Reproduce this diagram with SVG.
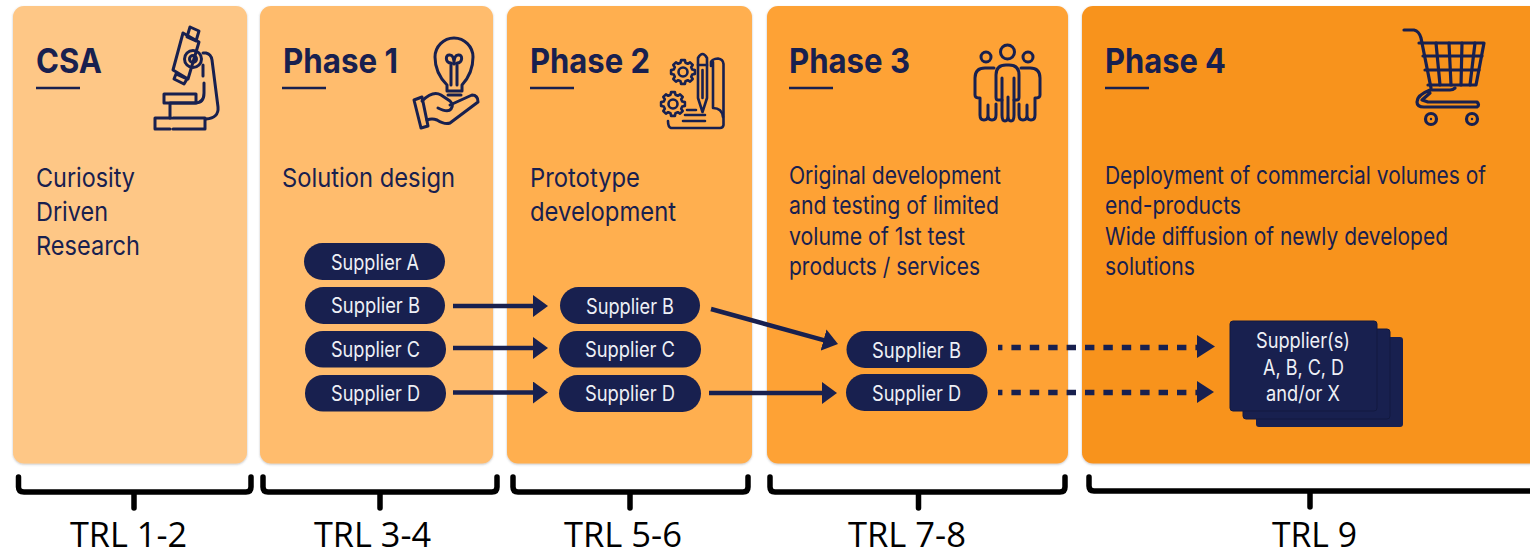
<svg xmlns="http://www.w3.org/2000/svg" width="1530" height="554" viewBox="0 0 1530 554">
<style>
.card{stroke:none;filter:url(#sh)}
.t{font-family:Inter,"Liberation Sans",sans-serif;font-weight:700;font-size:34px;fill:#18204f}
.d{font-family:Inter,"Liberation Sans",sans-serif;font-size:26px;fill:#18204f}
.e{font-family:Inter,"Liberation Sans",sans-serif;font-size:24.500px;fill:#18204f}
.s{font-family:Inter,"Liberation Sans",sans-serif;font-size:21px;fill:#eef0f6}
.p{fill:#18204f}
.u{stroke:#18204f;stroke-width:2.5;fill:none}
.i{stroke:#18204f;stroke-width:3;fill:none;stroke-linecap:round;stroke-linejoin:round}
.c{stroke:#18204f;stroke-width:4.500;fill:none}
.dash{stroke:#18204f;stroke-width:5.500;fill:none;stroke-dasharray:9.400 9;stroke-dashoffset:5}
.b{stroke:#000;stroke-width:5.500;fill:none;stroke-linejoin:round;stroke-linecap:round}
.l{font-family:"Open Sans","Liberation Sans",sans-serif;font-size:34px;fill:#000}
</style>
<defs>
<filter id="sh" x="-5%" y="-5%" width="110%" height="110%"><feDropShadow dx="0" dy="1" stdDeviation="1" flood-color="#555" flood-opacity="0.35"/></filter>
<marker id="ah" markerUnits="userSpaceOnUse" markerWidth="16" markerHeight="22" refX="1" refY="11" orient="auto"><path d="M0,0L15,11L0,22Z" fill="#18204f"/></marker>
<polygon id="gear" points="9.2,-2.5 11.9,-1.9 11.9,1.9 9.2,2.5 8.2,4.75 9.7,7.05 7.05,9.7 4.75,8.2 2.5,9.2 1.9,11.9 -1.9,11.9 -2.5,9.2 -4.75,8.2 -7.05,9.7 -9.7,7.05 -8.2,4.75 -9.2,2.5 -11.9,1.9 -11.9,-1.9 -9.2,-2.5 -8.2,-4.75 -9.7,-7.05 -7.05,-9.7 -4.75,-8.2 -2.5,-9.2 -1.9,-11.9 1.9,-11.9 2.5,-9.2 4.75,-8.2 7.05,-9.7 9.7,-7.05 8.2,-4.75"/>
</defs>
<rect width="1530" height="554" fill="#fff"/>

<g id="csa">
<rect class="card" x="13" y="6" width="234" height="457.500" rx="11" fill="#fec786"/>
<text class="t" x="36" y="73" textLength="66" lengthAdjust="spacingAndGlyphs">CSA</text>
<path class="u" d="M36,88H80"/>
<text class="d" x="36" y="187" textLength="99" lengthAdjust="spacingAndGlyphs">Curiosity</text>
<text class="d" x="36" y="221" textLength="72" lengthAdjust="spacingAndGlyphs">Driven</text>
<text class="d" x="36" y="255" textLength="104" lengthAdjust="spacingAndGlyphs">Research</text>
<g class="i">
<path d="M183,33L199,42L188,79L173,70Z"/>
<path d="M190,27L199,31L196,41L187,37Z"/>
<path d="M176,74L187,79L184,84L174,79Z"/>
<circle cx="193" cy="59" r="8.500"/><circle cx="193" cy="59" r="3.500"/>
<path d="M203,53H206Q211,54 212,60L218,107Q219,118 206,119"/>
<path d="M203,65V76M204,83V93Q204,103 195,103H170V118"/>
<rect x="164" y="94" width="32" height="9"/>
<path d="M171,118H155V129H170M173,118H205V129H173"/>
</g>
</g>

<g id="phase1">
<rect class="card" x="260" y="6" width="233" height="457.500" rx="11" fill="#ffbc6d"/>
<text class="t" x="283" y="73" textLength="115" lengthAdjust="spacingAndGlyphs">Phase 1</text>
<path class="u" d="M282,88H326"/>
<text class="d" x="282" y="187" textLength="173" lengthAdjust="spacingAndGlyphs">Solution design</text>
<g class="i">
<path d="M447,91V85Q435,73 435,57A19,19,0 0 1 473,57Q473,73 462,85V91Z"/>
<path d="M448,95H461M451,85V63M457,85V63M451,63C445,63 445,54 450,55C453,55 454,60 454,64C454,60 455,55 458,55C463,54 463,63 457,63"/>
<path d="M414,100L422,97L428,126L421,128Z"/>
<path d="M422,101Q433,90 441,95L450,101Q454,105 451,109Q448,113 438,108"/>
<path d="M450,105L472,95Q478,95 478,102L450,123Q445,125 437,120Q432,118 427,120"/>
</g>
<g><rect class="p" x="304" y="243" width="141" height="37" rx="18.500"/><text class="s" x="331" y="270" textLength="88" lengthAdjust="spacingAndGlyphs">Supplier A</text></g>
<g><rect class="p" x="305" y="287" width="140" height="37" rx="18.500"/><text class="s" x="331" y="313" textLength="89" lengthAdjust="spacingAndGlyphs">Supplier B</text></g>
<g><rect class="p" x="305" y="331" width="141" height="36.500" rx="18"/><text class="s" x="331" y="357" textLength="89" lengthAdjust="spacingAndGlyphs">Supplier C</text></g>
<g><rect class="p" x="305" y="375" width="141" height="36.500" rx="18"/><text class="s" x="331" y="401" textLength="89" lengthAdjust="spacingAndGlyphs">Supplier D</text></g>
</g>

<g id="phase2">
<rect class="card" x="507" y="6" width="245" height="457.500" rx="11" fill="#ffaf50"/>
<text class="t" x="530" y="73" textLength="120" lengthAdjust="spacingAndGlyphs">Phase 2</text>
<path class="u" d="M530,88H574"/>
<text class="d" x="530" y="187" textLength="110" lengthAdjust="spacingAndGlyphs">Prototype</text>
<text class="d" x="530" y="221" textLength="146" lengthAdjust="spacingAndGlyphs">development</text>
<g class="i" style="stroke-width:2.600">
<use href="#gear" x="683" y="72"/><circle cx="683" cy="72" r="4.500"/>
<use href="#gear" x="673" y="104"/><circle cx="673" cy="104" r="4.500"/>
<path d="M698,98V58Q702.500,50 707,58V98L702.500,112Z"/>
<path d="M698,65H707M702.500,70V98"/>
<path d="M711,66V62Q712,59 718,58.500Q723,59 723.500,64V125Q723,128 720,128H671Q668,127 668,121"/>
<path d="M713,62V108M713,108Q722,108 723,117"/>
<path d="M687,110H696M685,115H705M683,121H705"/>
</g>
<g><rect class="p" x="560" y="287" width="140" height="37" rx="18.500"/><text class="s" x="586" y="314" textLength="88" lengthAdjust="spacingAndGlyphs">Supplier B</text></g>
<g><rect class="p" x="559" y="331" width="142" height="36.500" rx="18"/><text class="s" x="585" y="357" textLength="90" lengthAdjust="spacingAndGlyphs">Supplier C</text></g>
<g><rect class="p" x="559" y="375" width="142" height="37" rx="18.500"/><text class="s" x="585" y="401" textLength="90" lengthAdjust="spacingAndGlyphs">Supplier D</text></g>
</g>

<g id="phase3">
<rect class="card" x="767" y="6" width="301" height="457.500" rx="11" fill="#fea235"/>
<text class="t" x="789" y="73" textLength="121" lengthAdjust="spacingAndGlyphs">Phase 3</text>
<path class="u" d="M789,88H833"/>
<text class="e" x="789" y="184" textLength="212" lengthAdjust="spacingAndGlyphs">Original development</text>
<text class="e" x="789" y="214" textLength="210" lengthAdjust="spacingAndGlyphs">and testing of limited</text>
<text class="e" x="789" y="245" textLength="176" lengthAdjust="spacingAndGlyphs">volume of 1st test</text>
<text class="e" x="789" y="275" textLength="191" lengthAdjust="spacingAndGlyphs">products / services</text>
<g class="i">
<circle cx="1007.500" cy="52" r="7"/><circle cx="986" cy="57" r="5"/><circle cx="1028" cy="57" r="5"/>
<path d="M1002,100H998Q996,100 996,97V75Q996,65 1006,65H1009Q1019,65 1019,75V97Q1019,100 1017,100H1014"/>
<path d="M1002,78V115Q1002,121 1005,121Q1008,121 1008,115V97V115Q1008,121 1011,121Q1014,121 1014,115V78"/>
<path d="M994,68H985Q975,68 975,78V95Q975,98 980,98V115Q980,120 984,120Q988,120 988,115V105V115Q988,120 992,120Q996,120 996,115V104"/>
<path d="M1021,68H1030Q1040,68 1040,78V95Q1040,98 1035,98V115Q1035,120 1031,120Q1027,120 1027,115V105V115Q1027,120 1023,120Q1019,120 1019,115V104"/>
</g>
<g><rect class="p" x="846.500" y="331" width="140.500" height="37" rx="18.500"/><text class="s" x="872" y="358" textLength="89" lengthAdjust="spacingAndGlyphs">Supplier B</text></g>
<g><rect class="p" x="846" y="374" width="141.500" height="37" rx="18.500"/><text class="s" x="872" y="401" textLength="89" lengthAdjust="spacingAndGlyphs">Supplier D</text></g>
</g>

<g id="phase4">
<rect class="card" x="1082" y="6" width="460" height="457.500" rx="11" fill="#f8931d"/>
<text class="t" x="1105" y="73" textLength="121" lengthAdjust="spacingAndGlyphs">Phase 4</text>
<path class="u" d="M1105,88H1149"/>
<text class="e" transform="translate(1105,184) scale(0.864,1)" x="0" y="0" textLength="441" lengthAdjust="spacingAndGlyphs">Deployment of commercial volumes of</text>
<text class="e" x="1105" y="214" textLength="136" lengthAdjust="spacingAndGlyphs">end-products</text>
<text class="e" x="1105" y="245" textLength="343" lengthAdjust="spacingAndGlyphs">Wide diffusion of newly developed</text>
<text class="e" x="1105" y="275" textLength="90" lengthAdjust="spacingAndGlyphs">solutions</text>
<g class="i" style="stroke-width:3.200">
<path d="M1404,30H1414Q1419,31 1421,38L1431,88"/>
<path d="M1419,43H1484L1476,85H1428"/>
<path d="M1436,43L1440,85M1449,43L1451,85M1462,43L1461,85M1475,43L1470,85M1423,56H1482M1425,70H1479"/>
<path d="M1455,88Q1453,90 1450,90H1430Q1417,95 1417,102Q1417,107 1424,107H1477Q1480,105 1477,102H1428L1422,100L1430,93"/>
<circle cx="1431" cy="119" r="5.500"/><circle cx="1472" cy="119" r="5.500"/>
</g>
<circle class="p" cx="1431" cy="119" r="1.200"/><circle class="p" cx="1472" cy="119" r="1.200"/>
<g id="stack">
<rect x="1256" y="337" width="147" height="90" rx="3" fill="#18204f"/>
<rect x="1243" y="329" width="147" height="90" rx="3" fill="#18204f" stroke="#121940" stroke-width="1"/>
<rect x="1230" y="321" width="147" height="90" rx="3" fill="#18204f" stroke="#121940" stroke-width="1"/>
<text class="s" x="1256" y="348" textLength="94" lengthAdjust="spacingAndGlyphs">Supplier(s)</text>
<text class="s" x="1263" y="375" textLength="81" lengthAdjust="spacingAndGlyphs">A, B, C, D</text>
<text class="s" x="1266" y="401" textLength="74" lengthAdjust="spacingAndGlyphs">and/or X</text>
</g>
</g>

<g id="connectors">
<path class="c" d="M453,306H534" marker-end="url(#ah)"/>
<path class="c" d="M453,348H534" marker-end="url(#ah)"/>
<path class="c" d="M453,392.500H534" marker-end="url(#ah)"/>
<path class="c" d="M711,309L824.500,340.300" marker-end="url(#ah)"/>
<path class="c" d="M709,393H823" marker-end="url(#ah)"/>
<path class="dash" d="M998,347.500H1198"/>
<path class="dash" d="M998,392.500H1198"/>
<path d="M1197,335L1215,346.500L1197,358Z" class="p"/>
<path d="M1197,381L1214,392L1197,403Z" class="p"/>
</g>

<g id="brackets">
<path class="b" d="M18.500,477V487Q18.500,492 24,492H246Q251,492 251,487V477M134,492V508"/>
<path class="b" d="M263,477V487Q263,492 268,492H492Q497,492 497,487V477M380,492V508"/>
<path class="b" d="M513,477V487Q513,492 518,492H743Q748,492 748,487V477M630,492V508"/>
<path class="b" d="M770,477V487Q770,492 775,492H1060Q1065,492 1065,487V477M918.500,492V508"/>
<path class="b" d="M1089,477V486Q1089,491 1094,491H1535M1310,491V507"/>
<text class="l" x="70" y="547" textLength="117" lengthAdjust="spacingAndGlyphs">TRL 1-2</text>
<text class="l" x="314" y="547" textLength="117" lengthAdjust="spacingAndGlyphs">TRL 3-4</text>
<text class="l" x="564" y="547" textLength="118" lengthAdjust="spacingAndGlyphs">TRL 5-6</text>
<text class="l" x="848" y="547" textLength="118" lengthAdjust="spacingAndGlyphs">TRL 7-8</text>
<text class="l" x="1272" y="547" textLength="85" lengthAdjust="spacingAndGlyphs">TRL 9</text>
</g>
</svg>
